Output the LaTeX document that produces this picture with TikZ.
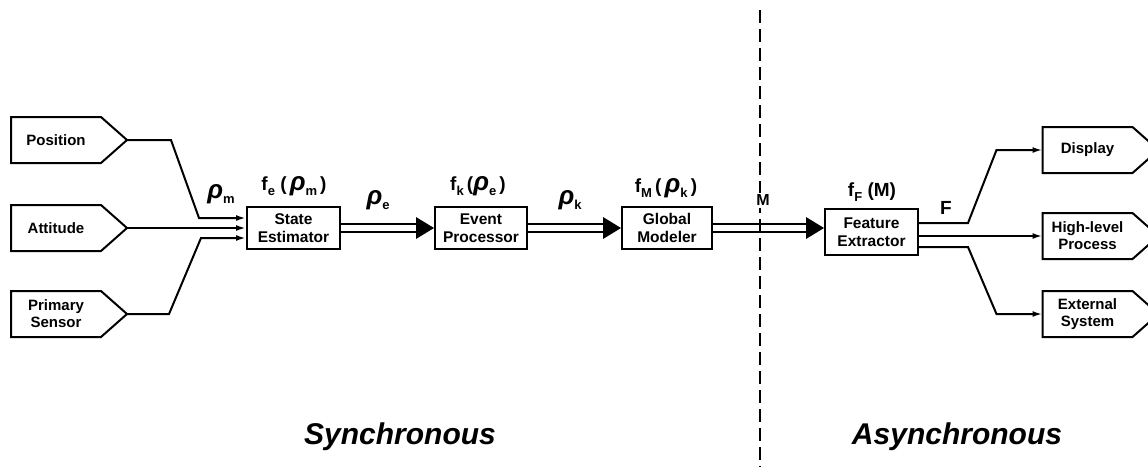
\documentclass[tikz,border=0pt]{standalone}
\usepackage{fontspec}
\setmainfont{Liberation Sans}
\usetikzlibrary{arrows.meta}
\newcommand\lsub[1]{\raisebox{-0.55ex}{\fontsize{13}{13}\selectfont #1}}
\newcommand\rh{{\fontsize{26}{26}\selectfont\itshape ρ}}
\newcommand\sigbox[4]{%
  \node[sigtext] (#1) at (#2,#3) {#4};
  \draw (#1.north west) -- (#1.north east) -- ([xshift=26pt]#1.east) -- (#1.south east) -- (#1.south west) -- cycle;
  \coordinate (#1-tip) at ([xshift=26pt]#1.east);}
\newcommand\dbl[2]{%
  \draw ([yshift=4pt]#1.east) -- ([xshift=-18pt,yshift=4pt]#2);
  \draw ([yshift=-4pt]#1.east) -- ([xshift=-18pt,yshift=-4pt]#2);
  \fill (#2) -- ([xshift=-18pt,yshift=11pt]#2) -- ([xshift=-18pt,yshift=-11pt]#2) -- cycle;}
\begin{document}
\begin{tikzpicture}[x=1pt,y=-1pt,line width=2pt,line join=miter,
  sigtext/.style={minimum width=88pt,minimum height=44pt,inner sep=0pt,align=center,font=\fontsize{15}{17}\selectfont\bfseries},
  proc/.style={draw,minimum height=42pt,inner sep=0pt,align=center,font=\fontsize{15.5}{18}\selectfont\bfseries},
  lbl/.style={inner sep=0pt,font=\fontsize{19}{19}\selectfont\bfseries},
  inarr/.style={-{Latex[length=10pt,width=6pt]}},
  divider/.style={line width=2pt,dash pattern=on 13pt off 6pt},
  big/.style={font=\fontsize{30}{30}\selectfont\bfseries\itshape}]
\useasboundingbox (0,0) rectangle (1148,467);
\clip (0,0) rectangle (1148,467);
\fill[white] (0,0) rectangle (1148,467);
% divider
\coordinate (dtop) at (760,10);
\coordinate (dbot) at (760,467);
\draw[divider] (dtop) -- (dbot);
% processing boxes
\node[proc,minimum width=93pt] (se) at (293.5,228) {State\\Estimator};
\node[proc,minimum width=92pt] (ep) at (481,228) {Event\\Processor};
\node[proc,minimum width=90pt] (gm) at (667,228) {Global\\Modeler};
\node[proc,minimum width=93pt,minimum height=46pt] (fe) at (871.5,232) {Feature\\Extractor};
% sources and sinks
\sigbox{pos}{56}{140}{Position}
\sigbox{att}{56}{228}{Attitude}
\sigbox{pri}{56}{314}{Primary\\Sensor}
\sigbox{dis}{1087.5}{150}{Display}
\sigbox{hlp}{1087.5}{236}{High-level\\Process}
\sigbox{ext}{1087.5}{314}{External\\System}
% inputs
\draw[inarr] (pos-tip) -- ++(44,0) -- ([xshift=-47pt,yshift=10pt]se.west) -- ([yshift=10pt]se.west);
\draw[inarr] (att-tip) -- (se.west);
\draw[inarr] (pri-tip) -- ++(42,0) -- ([xshift=-45pt,yshift=-10pt]se.west) -- ([yshift=-10pt]se.west);
% main flow
\dbl{se}{ep.west}
\dbl{ep}{gm.west}
\coordinate (fetip) at (fe.west |- gm.east);
\dbl{gm}{fetip}
% outputs
\draw[inarr] ([yshift=9pt]fe.east) -- ++(49,0) -- ([xshift=-46pt]dis.west) -- (dis.west);
\draw[inarr] (fe.east |- hlp.west) -- (hlp.west);
\draw[inarr] ([yshift=-15pt]fe.east) -- ++(49,0) -- ([xshift=-46pt]ext.west) -- (ext.west);
% labels
\node[lbl] (lrm) at (221,194) {\rh\lsub{m}};
\node[lbl] (lfe) at (294,186) {f\lsub{e}\ (\,\rh\lsub{m}\,)};
\node[lbl] (lre) at (378,200) {\rh\lsub{e}};
\node[lbl] (lfk) at (478,186) {f\lsub{k}\,(\rh\lsub{e}\,)};
\node[lbl] (lrk) at (570,200) {\rh\lsub{k}};
\node[lbl] (lfm) at (666,188) {f\lsub{M}\,(\,\rh\lsub{k}\,)};
\node[lbl,fill=white,inner sep=2pt,font=\fontsize{16}{16}\selectfont\bfseries] (lM) at (763,200) {M};
\node[lbl] (lff) at (872,192) {f\lsub{F}\ (M)};
\node[lbl] (lF) at (946,208) {F};
\node[big] (sync) at (400,437) {Synchronous};
\node[big] (async) at (957,437) {Asynchronous};
\end{tikzpicture}
\end{document}
